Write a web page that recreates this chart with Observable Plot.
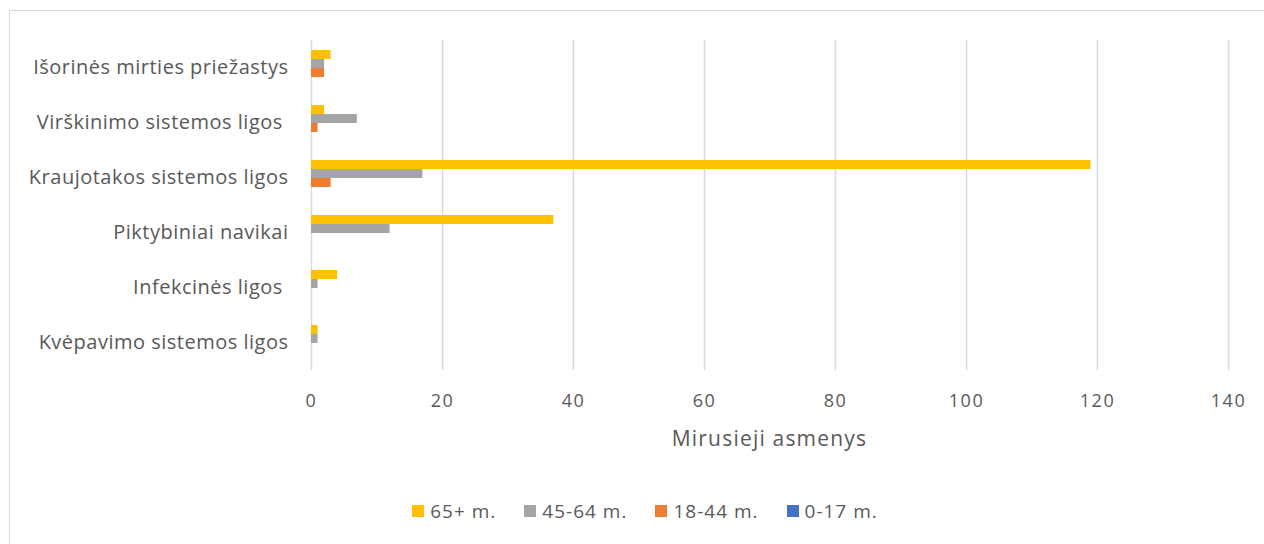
<!DOCTYPE html>
<html><head><meta charset="utf-8">
<script src="https://cdn.jsdelivr.net/npm/d3@7"></script>
<script src="https://cdn.jsdelivr.net/npm/@observablehq/plot@0.6"></script>
<style>
body{margin:0;background:#fff;font-family:"Open Sans",sans-serif;}
#frame{position:absolute;left:9px;top:10px;width:1260px;height:540px;border:1px solid #d9d9d9;box-sizing:border-box;}
#chart{position:absolute;left:0;top:0;}
#chart svg text{white-space:pre;}
#chart svg g[aria-label="fy-axis tick label"] text{letter-spacing:0.5px;}
#chart svg g[aria-label="x-axis tick label"] text{letter-spacing:1.5px;}
#xtitle{position:absolute;left:0;width:1539px;top:424px;text-align:center;font-size:21px;letter-spacing:1.2px;color:#595959;}
#legend{position:absolute;top:498px;left:0;width:1290px;display:flex;justify-content:center;gap:28px;font-size:19px;letter-spacing:1px;color:#595959;}
#legend .item{display:flex;align-items:center;gap:6px;}
#legend .sw{width:12px;height:12px;display:inline-block;}
</style></head>
<body>
<div id="frame"></div>
<div id="chart"></div>
<div id="xtitle">Mirusieji asmenys</div>
<div id="legend"></div>
<script>
const categories = ["Išorinės mirties priežastys","Virškinimo sistemos ligos ","Kraujotakos sistemos ligos","Piktybiniai navikai","Infekcinės ligos ","Kvėpavimo sistemos ligos"];
const series = ["65+ m.","45-64 m.","18-44 m.","0-17 m."];
const colors = ["#FFC000","#A5A5A5","#ED7D31","#4472C4"];
const v65 = [3,2,119,37,4,1];
const v45 = [2,7,17,12,1,1];
const v18 = [2,1,3,0,0,0];
const v0 = [0,0,0,0,0,0];
const xTicks = [0,20,40,60,80,100,120,140];

const seriesValues = [v65,v45,v18,v0];
const data = categories.flatMap((c,i)=>seriesValues.map((vals,j)=>({category:c, series:series[j], value:vals[i]})));

const chart = Plot.plot({
  width:1264, height:470,
  marginLeft:311, marginRight:36, marginTop:39, marginBottom:100,
  style:{fontFamily:"'Open Sans', sans-serif", color:"#595959", fontSize:"16px", overflow:"visible", background:"transparent"},
  x:{domain:[0,140], axis:null},
  y:{domain:series, axis:null, paddingInner:0, paddingOuter:0.97},
  fy:{domain:categories, padding:0, axis:null},
  color:{domain:series, range:colors},
  marks:[
    Plot.gridX(xTicks,{stroke:"#d9d9d9", strokeOpacity:1, strokeWidth:1.5}),
    Plot.barX(data,{fy:"category", y:"series", x:"value", fill:"series"}),
    Plot.axisX(xTicks,{anchor:"bottom", tickSize:0, tickPadding:24, fontSize:18, label:null, fill:"#595959"}),
    Plot.axisFy({anchor:"left", tickSize:0, tickPadding:23, fontSize:20, label:null, fill:"#595959"})
  ]
});
document.getElementById("chart").appendChild(chart);

const legend = document.getElementById("legend");
series.forEach((s,i)=>{
  const item = document.createElement("div"); item.className="item";
  const sw = document.createElement("span"); sw.className="sw"; sw.style.background=colors[i];
  const t = document.createElement("span"); t.textContent=s;
  item.appendChild(sw); item.appendChild(t); legend.appendChild(item);
});
</script>
</body></html>
